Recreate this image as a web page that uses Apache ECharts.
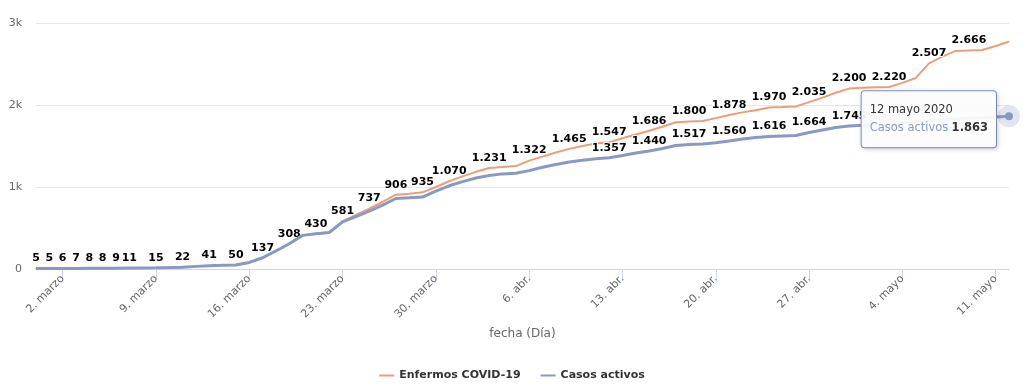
<!DOCTYPE html>
<html>
<head>
<meta charset="utf-8">
<script src="https://cdn.jsdelivr.net/npm/echarts@6/dist/echarts.min.js"></script>
<style>
html,body{margin:0;padding:0;background:#fff;}
#chart{width:1024px;height:392px;}
</style>
</head>
<body>
<div id="chart"></div>
<script>
// ---- data ----
var startDate = '2020-02-29';
var dayCount = 74;
var monthNames = ['ene.', 'feb.', 'marzo', 'abr.', 'mayo'];
var monthNamesLong = ['enero', 'febrero', 'marzo', 'abril', 'mayo'];
var seriesNames = ['Enfermos COVID-19', 'Casos activos'];

var enfermos = [
  5, 5, 6, 7, 8, 8, 9, 11, 13, 15,
  18, 22, 32, 41, 46, 50, 80, 137, 220, 308,
  410, 430, 445, 581, 660, 737, 820, 906, 918, 935,
  1000, 1070, 1130, 1185, 1231, 1245, 1255, 1322, 1370, 1420,
  1465, 1500, 1530, 1547, 1595, 1640, 1686, 1735, 1790, 1800,
  1805, 1840, 1878, 1910, 1935, 1970, 1975, 1982, 2035, 2090,
  2150, 2200, 2210, 2215, 2220, 2270, 2330, 2507, 2590, 2660,
  2666, 2670, 2720, 2775
];
var activos = [
  5, 5, 6, 7, 8, 8, 9, 11, 13, 15,
  18, 22, 32, 41, 46, 50, 80, 137, 220, 308,
  410, 430, 445, 575, 640, 705, 780, 860, 868, 878,
  950, 1015, 1065, 1110, 1140, 1160, 1168, 1200, 1240, 1275,
  1305, 1325, 1345, 1357, 1385, 1415, 1440, 1470, 1505, 1517,
  1525, 1540, 1560, 1585, 1605, 1616, 1622, 1628, 1664, 1695,
  1725, 1745, 1752, 1758, 1765, 1780, 1795, 1810, 1820, 1830,
  1838, 1845, 1855, 1863
];
// indices of points whose data label is visible
var enfermosLabelIdx = [0,1,2,3,4,5,6,7,9,11,13,15,17,19,21,23,25,27,29,31,34,37,40,43,46,49,52,55,58,61,64,67,70];
var activosLabelIdx = [43,46,49,52,55,58,61];
var yTicks = [0, 1000, 2000, 3000];

// ---- helpers ----
var categories = [];
(function(){
  var d = new Date(startDate + 'T12:00:00Z');
  for (var i = 0; i < dayCount; i++) {
    var t = new Date(d.getTime() + i * 86400000);
    categories.push(t.toISOString().slice(0, 10));
  }
})();
function fmtNum(v) {
  return String(v).replace(/\B(?=(\d{3})+(?!\d))/g, '.');
}
function tickLabel(iso) {
  var m = parseInt(iso.slice(5, 7), 10), d = parseInt(iso.slice(8, 10), 10);
  return d + '. ' + monthNames[m - 1];
}
function isTick(idx) {
  return (idx - 2) % 7 === 0 && idx >= 2;
}
function longDate(iso) {
  var m = parseInt(iso.slice(5, 7), 10), d = parseInt(iso.slice(8, 10), 10);
  return d + ' ' + monthNamesLong[m - 1] + ' ' + iso.slice(0, 4);
}

var ORANGE = '#ea9f7b';
var BLUE = '#8a99c4';
var FONT = 'DejaVu Sans, Verdana, sans-serif';

var labelStyle = {
  show: true,
  position: 'top',
  distance: 4,
  color: '#000',
  fontFamily: FONT,
  fontWeight: 'bold',
  fontSize: 11,
  textBorderColor: '#fff',
  textBorderWidth: 2
};

var chart = echarts.init(document.getElementById('chart'), null, {renderer: 'canvas'});
chart.setOption({
  animation: false,
  backgroundColor: '#fff',
  grid: {left: 36, right: 15, top: 23, bottom: 123},
  legend: {
    data: [
      {name: seriesNames[0], icon: 'rect'},
      {name: seriesNames[1], icon: 'rect'}
    ],
    left: 'center',
    top: 365,
    itemWidth: 15,
    itemHeight: 2,
    itemGap: 20,
    textStyle: {fontFamily: FONT, fontWeight: 'bold', fontSize: 11, color: '#333'}
  },
  xAxis: {
    type: 'category',
    data: categories,
    boundaryGap: false,
    name: 'fecha (Día)',
    nameLocation: 'middle',
    nameGap: 59,
    nameTextStyle: {fontFamily: FONT, fontSize: 12, color: '#666'},
    axisLine: {lineStyle: {color: '#ccd6eb'}},
    axisTick: {show: true, length: 10, interval: function(i){return isTick(i);}, lineStyle: {color: '#ccd6eb'}},
    axisLabel: {
      interval: function(i){return isTick(i);},
      rotate: 45,
      margin: 8,
      fontFamily: FONT,
      fontSize: 11,
      color: '#666',
      formatter: function(v){return tickLabel(v);}
    },
    splitLine: {show: false}
  },
  yAxis: {
    type: 'value',
    min: yTicks[0],
    max: yTicks[yTicks.length - 1],
    interval: yTicks[1] - yTicks[0],
    axisLine: {show: false},
    axisTick: {show: false},
    axisLabel: {
      margin: 14,
      fontFamily: FONT,
      fontSize: 11,
      color: '#666',
      formatter: function(v){return v === 0 ? '0' : (v / 1000) + 'k';}
    },
    splitLine: {lineStyle: {color: '#e6e6e6'}}
  },
  series: [
    {
      name: seriesNames[0],
      type: 'line',
      data: enfermos,
      symbol: 'circle',
      symbolSize: 1,
      showSymbol: true,
      showAllSymbol: true,
      color: ORANGE,
      itemStyle: {color: ORANGE},
      lineStyle: {width: 2, color: ORANGE},
      label: Object.assign({}, labelStyle, {
        formatter: function(p){return enfermosLabelIdx.indexOf(p.dataIndex) >= 0 ? fmtNum(p.value) : '';}
      }),
      z: 2
    },
    {
      name: seriesNames[1],
      type: 'line',
      data: activos,
      symbol: 'circle',
      symbolSize: 1,
      showSymbol: true,
      showAllSymbol: true,
      color: BLUE,
      itemStyle: {color: BLUE},
      lineStyle: {width: 3, color: BLUE},
      label: Object.assign({}, labelStyle, {
        formatter: function(p){return activosLabelIdx.indexOf(p.dataIndex) >= 0 ? fmtNum(p.value) : '';}
      }),
      z: 3,
      markPoint: {
        z: 10,
        symbol: 'circle',
        data: [
          {type: 'max', symbolSize: 22, itemStyle: {color: 'rgba(138,153,196,0.25)'}, label: {show: false}},
          {
            type: 'max',
            symbolSize: 8,
            itemStyle: {color: BLUE},
            label: {
              show: true,
              position: 'left',
              distance: 9,
              offset: [0, 3],
              formatter: function(p){
                var i = activos.length - 1;
                return '{d|' + longDate(categories[i]) + '}\n{n|' + seriesNames[1] + '} {v|' + fmtNum(activos[i]) + '}';
              },
              backgroundColor: 'rgba(255,255,255,0.92)',
              borderColor: BLUE,
              borderWidth: 1,
              borderRadius: 3,
              padding: [10, 8, 10, 8],
              shadowColor: 'rgba(0,0,0,0.18)',
              shadowBlur: 4,
              shadowOffsetX: 1,
              shadowOffsetY: 1,
              rich: {
                d: {fontFamily: FONT, fontSize: 11.5, color: '#333', lineHeight: 18, align: 'left'},
                n: {fontFamily: FONT, fontSize: 11.5, color: BLUE, lineHeight: 18, align: 'left'},
                v: {fontFamily: FONT, fontSize: 11.5, color: '#333', fontWeight: 'bold', lineHeight: 18, align: 'left'}
              }
            }
          }
        ]
      }
    }
  ]
});
</script>
</body>
</html>
